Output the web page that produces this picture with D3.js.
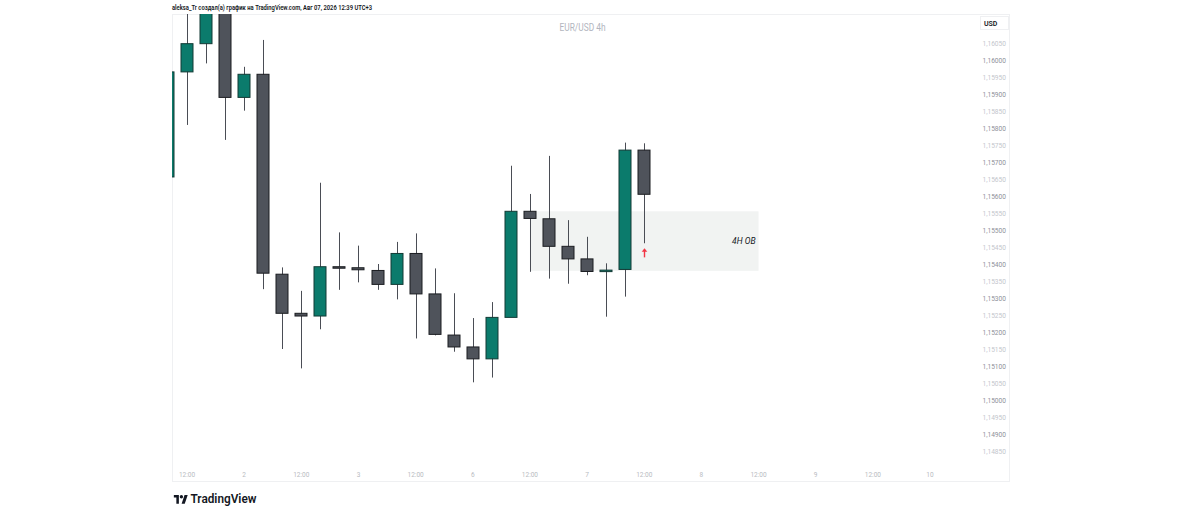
<!DOCTYPE html>
<html><head><meta charset="utf-8">
<script src="https://cdn.jsdelivr.net/npm/d3@7/dist/d3.min.js"></script>
<style>
html,body{margin:0;padding:0;background:#fff;}
svg{display:block;font-family:Roboto,"Noto Sans",sans-serif;}
</style></head>
<body>
<svg id="c" width="1184" height="513"></svg>
<script>
// ---- data ----
const categories = ["1 08:00","1 12:00","1 16:00","1 20:00","2 00:00","2 04:00","2 08:00","2 12:00","2 16:00","2 20:00",
  "3 00:00","3 04:00","3 08:00","3 12:00","3 16:00","3 20:00","6 00:00","6 04:00","6 08:00","6 12:00","6 16:00","6 20:00",
  "7 00:00","7 04:00","7 08:00","7 12:00"];
const openV  = [1.15656,1.15965,1.16048,1.16210,1.15890,1.15958,1.15370,1.15255,1.15247,1.15392,1.15389,1.15381,1.15340,1.15431,1.15312,1.15191,1.15156,1.15121,1.15243,1.15555,1.15533,1.15452,1.15415,1.15378,1.15384,1.15735];
const highV  = [1.15980,1.16160,1.16250,1.16260,1.15980,1.16059,1.15390,1.15321,1.15639,1.15493,1.15454,1.15400,1.15465,1.15490,1.15387,1.15314,1.15241,1.15288,1.15689,1.15606,1.15718,1.15529,1.15480,1.15402,1.15757,1.15755];
const lowV   = [1.15620,1.15809,1.15990,1.15765,1.15851,1.15326,1.15150,1.15093,1.15208,1.15324,1.15346,1.15324,1.15296,1.15181,1.15190,1.15142,1.15052,1.15066,1.15350,1.15377,1.15357,1.15342,1.15367,1.15245,1.15304,1.15461];
const closeV = [1.15965,1.16048,1.16210,1.15890,1.15958,1.15373,1.15255,1.15247,1.15392,1.15389,1.15383,1.15340,1.15431,1.15312,1.15193,1.15156,1.15121,1.15243,1.15555,1.15534,1.15452,1.15415,1.15378,1.15382,1.15735,1.15605];
const xTickLabels = ["12:00","2","12:00","3","12:00","6","12:00","7","12:00","8","12:00","9","12:00","10"];
const yTicks = [1.1605,1.1600,1.1595,1.1590,1.1585,1.1580,1.1575,1.1570,1.1565,1.1560,1.1555,1.1550,1.1545,1.1540,1.1535,1.1530,1.1525,1.1520,1.1515,1.1510,1.1505,1.1500,1.1495,1.1490,1.1485];
const obZone = {from:"6 12:00", toSlot:30, top:1.15555, bottom:1.15380, label:"4H OB"};
const arrowPrice = 1.15446;

// ---- scales ----
const svg = d3.select("#c");
const slot = i => i - 1;
const x = d3.scaleLinear().domain([0, 39]).range([187, 930]);
const y = d3.scaleLinear().domain([1.1605, 1.1485]).range([43, 451]);
const plot = {l:172, t:14, r:970, b:482};

// frame
svg.append("rect").attr("x",172.5).attr("y",14.5).attr("width",837).attr("height",467)
  .attr("fill","none").attr("stroke","#eff0f2");

// header
svg.append("text").attr("x",172).attr("y",10).attr("font-size",7).attr("font-weight",600)
  .attr("fill","#131722").attr("textLength",200).attr("lengthAdjust","spacingAndGlyphs")
  .text("aleksa_Tr создал(а) график на TradingView.com, Авг 07, 2026 12:39 UTC+3");

// title
svg.append("text").attr("x",582.5).attr("y",31).attr("text-anchor","middle").attr("font-size",10.5)
  .attr("fill","#b2b5be").attr("textLength",46).attr("lengthAdjust","spacingAndGlyphs").text("EUR/USD 4h");

// clip
svg.append("defs").append("clipPath").attr("id","pc").append("rect")
  .attr("x",plot.l).attr("y",plot.t).attr("width",plot.r-plot.l).attr("height",plot.b-plot.t);
const g = svg.append("g").attr("clip-path","url(#pc)");

// OB zone
const obStart = slot(categories.indexOf(obZone.from));
g.append("rect").attr("x",x(obStart)).attr("y",y(obZone.top))
  .attr("width",x(obZone.toSlot)-x(obStart)).attr("height",y(obZone.bottom)-y(obZone.top))
  .attr("fill","#f1f3f2");
g.append("text").attr("x",x(obZone.toSlot)-3).attr("y",(y(obZone.top)+y(obZone.bottom))/2+3)
  .attr("text-anchor","end").attr("font-size",8.5).attr("font-style","italic").attr("fill","#131722")
  .text(obZone.label);

const data = categories.map((c,i)=>({c,i:slot(i),o:openV[i],h:highV[i],l:lowV[i],cl:closeV[i]}));

// wicks
g.selectAll("line.w").data(data).join("line").attr("class","w")
  .attr("x1",d=>Math.round(x(d.i))+0.5).attr("x2",d=>Math.round(x(d.i))+0.5)
  .attr("y1",d=>y(d.h)).attr("y2",d=>y(d.l))
  .attr("stroke","#4a4d55").attr("stroke-width",1);

// bodies
const bw = 13;
g.selectAll("rect.b").data(data).join("rect").attr("class","b")
  .attr("x",d=>Math.round(x(d.i))-bw/2+0.5).attr("width",bw-1)
  .attr("y",d=>y(Math.max(d.o,d.cl)))
  .attr("height",d=>Math.max(1.5, y(Math.min(d.o,d.cl))-y(Math.max(d.o,d.cl))))
  .attr("fill",d=>d.cl>=d.o?"#0b7b6c":"#4f535b")
  .attr("stroke",d=>d.cl>=d.o?"#123a35":"#1b1d21").attr("stroke-width",1);

// red arrow
const last = data[data.length-1];
const ax = Math.round(x(last.i))+0.5, ay = y(arrowPrice);
g.append("line").attr("x1",ax).attr("x2",ax).attr("y1",ay+2).attr("y2",ay+9)
  .attr("stroke","#f23645").attr("stroke-width",1.4);
g.append("path").attr("d",`M${ax-2.8},${ay+3.5}L${ax},${ay}L${ax+2.8},${ay+3.5}Z`).attr("fill","#f23645");

// y axis labels
svg.append("g").selectAll("text").data(yTicks).join("text")
  .attr("x",1006).attr("y",d=>y(d)+2.5).attr("text-anchor","end").attr("font-size",6.6)
  .attr("fill",(d,i)=>i%2===0?"#c3c6cc":"#8e9199")
  .text(d=>d3.format(".5f")(d).replace(".",","));

// USD box
svg.append("rect").attr("x",980.5).attr("y",16.5).attr("width",28).attr("height",13)
  .attr("fill","#fff").attr("stroke","#eff0f2");
svg.append("text").attr("x",984).attr("y",25.5).attr("font-size",7).attr("font-weight",600)
  .attr("fill","#131722").text("USD");

// x axis labels
svg.append("g").selectAll("text").data(xTickLabels).join("text")
  .attr("x",(d,i)=>x(i*3)).attr("y",477).attr("text-anchor","middle").attr("font-size",6.5)
  .attr("fill","#b8bbc1").text(d=>d);

// TradingView logo
const lg = svg.append("g").attr("transform","translate(173,492.5) scale(0.42)");
lg.append("path").attr("d","M14 6H2v6h6v15h6V6Zm14 21h-7.5l7-21H35l-7 21ZM20 14a4 4 0 1 0 0-8 4 4 0 0 0 0 8Z").attr("fill","#131722");
svg.append("text").attr("x",190.5).attr("y",502.5).attr("font-size",12).attr("font-weight",600)
  .attr("fill","#131722").attr("textLength",66).attr("lengthAdjust","spacingAndGlyphs").text("TradingView");
</script>
</body></html>
